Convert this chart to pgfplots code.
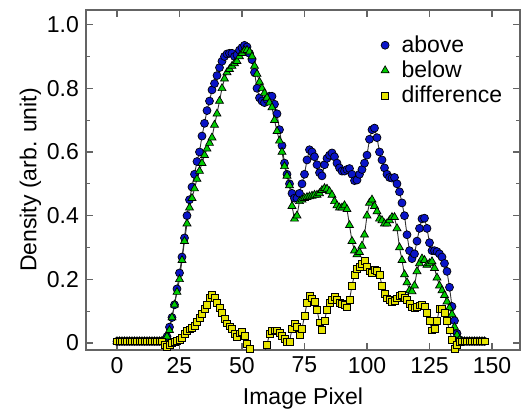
\documentclass[border=0pt]{standalone}
\usepackage{fontspec}
\setmainfont{Liberation Sans}
\usepackage{pgfplots}
\usepackage{pgfplotstable}
\pgfplotsset{compat=1.18}
\definecolor{abovecol}{RGB}{10,20,200}
\definecolor{belowcol}{RGB}{0,205,0}
\definecolor{diffcol}{RGB}{230,228,0}
\definecolor{axisgray}{RGB}{100,100,100}

% x  above  below  difference
\pgfplotstableread{
x a b d
0 0.005 0.005 0.005
1 0.005 0.005 0.005
2 0.005 0.005 0.005
3 0.005 0.005 0.005
4 0.005 0.005 0.005
5 0.005 0.005 0.005
6 0.005 0.005 0.005
7 0.005 0.005 0.005
8 0.005 0.005 0.005
9 0.005 0.005 0.005
10 0.005 0.005 0.005
11 0.005 0.005 0.005
12 0.005 0.005 0.005
13 0.005 0.005 0.005
14 0.005 0.005 0.005
15 0.005 0.005 0.005
16 0.005 0.005 0.005
17 0.005 0.005 0.005
18 0.006 0.006 0.005
19 0.008 0.006 -0.005
20 0.02 0.02 -0.012
21 0.05 0.04 -0.005
22 0.08 0.08 0.0
23 0.12 0.12 0.003
24 0.17 0.16 0.006
25 0.22 0.20 0.01
26 0.27 0.26 0.015
27 0.33 0.32 0.028
28 0.40 0.375 0.037
29 0.45 0.425 0.043
30 0.49 0.455 0.048
31 0.53 0.485 0.055
32 0.57 0.515 0.066
33 0.60 0.54 0.078
34 0.65 0.565 0.092
35 0.69 0.59 0.107
36 0.73 0.61 0.12
37 0.76 0.628 0.142
38 0.795 0.645 0.152
39 0.815 0.685 0.143
40 0.84 0.72 0.125
41 0.865 0.76 0.11
42 0.885 0.80 0.095
43 0.90 0.83 0.075
44 0.908 0.85 0.062
45 0.91 0.86 0.052
46 0.91 0.87 0.044
47 0.90 0.878 0.028
48 0.905 0.885 0.02
49 0.92 0.90 0.03
50 0.928 0.91 0.036
51 0.935 0.918 0.022
52 0.93 0.92 -0.002
53 0.91 0.915 -0.018
54 0.89 0.90 -0.025
55 0.85 0.87 -0.032
56 0.80 0.845 -0.037
57 0.77 0.82 -0.042
58 0.76 0.80 -0.04
59 0.755 0.785 -0.03
60 0.765 0.77 -0.005
61 0.775 0.755 0.028
62 0.775 0.74 0.037
63 0.75 0.70 0.04
64 0.72 0.665 0.04
65 0.67 0.635 0.033
66 0.62 0.60 0.022
67 0.565 0.555 0.012
68 0.53 0.525 0.003
69 0.50 0.495 0.004
70 0.47 0.43 0.045
71 0.455 0.39 0.062
72 0.455 0.40 0.05
73 0.47 0.445 0.025
74 0.50 0.45 0.045
75 0.53 0.455 0.085
76 0.575 0.458 0.125
77 0.607 0.46 0.148
78 0.60 0.462 0.14
79 0.585 0.465 0.128
80 0.56 0.465 0.105
81 0.535 0.47 0.065
82 0.525 0.48 0.042
83 0.56 0.486 0.07
84 0.58 0.484 0.105
85 0.59 0.476 0.125
86 0.597 0.465 0.135
87 0.585 0.445 0.145
88 0.565 0.432 0.135
89 0.55 0.425 0.127
90 0.54 0.425 0.122
91 0.54 0.432 0.12
92 0.545 0.42 0.112
93 0.548 0.37 0.135
94 0.53 0.32 0.18
95 0.51 0.29 0.215
96 0.512 0.278 0.232
97 0.53 0.285 0.24
98 0.545 0.305 0.248
99 0.565 0.34 0.258
100 0.59 0.40 0.24
101 0.64 0.44 0.225
102 0.67 0.45 0.22
103 0.675 0.43 0.23
104 0.645 0.413 0.226
105 0.60 0.39 0.215
106 0.575 0.385 0.18
107 0.55 0.375 0.155
108 0.53 0.375 0.14
109 0.52 0.385 0.135
110 0.518 0.395 0.13
111 0.52 0.395 0.132
112 0.50 0.36 0.14
113 0.475 0.30 0.148
114 0.44 0.26 0.15
115 0.40 0.215 0.143
116 0.34 0.19 0.135
117 0.29 0.165 0.122
118 0.265 0.162 0.112
119 0.28 0.18 0.11
120 0.32 0.225 0.114
121 0.36 0.25 0.118
122 0.39 0.265 0.12
123 0.392 0.26 0.115
124 0.36 0.245 0.095
125 0.315 0.25 0.07
126 0.29 0.256 0.04
127 0.29 0.235 0.045
128 0.287 0.205 0.07
129 0.28 0.18 0.108
130 0.27 0.165 0.108
131 0.25 0.15 0.095
132 0.225 0.13 0.07
133 0.175 0.11 0.04
134 0.115 0.09 0.01
135 0.07 0.05 -0.018
136 0.03 0.025 -0.005
137 0.01 0.01 0.003
138 0.005 0.005 0.005
139 0.005 0.005 0.005
140 0.005 0.005 0.005
141 0.005 0.005 0.005
142 0.005 0.005 0.005
143 0.005 0.005 0.005
144 0.005 0.005 0.005
145 0.005 0.005 0.005
146 0.005 0.005 0.005
147 0.005 0.005 0.005
}\densitytable

\begin{document}
\begin{tikzpicture}
\begin{axis}[
    at={(0,0)}, anchor=south west,
    scale only axis,
    width=217pt, height=170pt,
    xmin=-12.4, xmax=161.2,
    ymin=-0.022, ymax=1.046,
    xtick={0,25,50,75,100,125,150},
    ytick={0,0.2,0.4,0.6,0.8,1.0},
    yticklabels={0,0.2,0.4,0.6,0.8,1.0},
    minor ytick={0.1,0.3,0.5,0.7,0.9},
    tick align=inside,
    major tick length=3.5pt,
    minor tick length=1.8pt,
    tick style={draw=axisgray, line width=0.6pt},
    axis line style={draw=axisgray, line width=1pt},
    /pgf/number format/assume math mode=true,
    tick label style={font=\fontsize{11.5}{13}\selectfont},
    label style={font=\fontsize{11.5}{13}\selectfont},
    xlabel={Image Pixel},
    ylabel={Density (arb. unit)},
    xlabel style={yshift=-0.5pt},
    ylabel style={yshift=-4pt},
    every axis plot/.append style={draw=black!80, line width=0.45pt},
    legend style={draw=none, fill=none, at={(0.655,0.95)}, anchor=north west,
        font=\fontsize{11.5}{12}\selectfont, row sep=-1.2pt,
        cells={anchor=west}},
    legend image code/.code={%
        \path (0pt,0pt) (10pt,0pt);
        \draw[#1] plot coordinates {(4pt,0pt)};},
]
\addplot[mark=*, mark size=2pt,
    mark options={draw=black, line width=0.35pt, fill=abovecol}]
    table[x=x, y=a] {\densitytable};
\addlegendentry{above}
\addplot[mark=triangle*, mark size=2.3pt,
    mark options={draw=black, line width=0.35pt, fill=belowcol}]
    table[x=x, y=b] {\densitytable};
\addlegendentry{below}
\addplot[mark=square*, mark size=1.7pt,
    mark options={draw=black, line width=0.35pt, fill=diffcol}]
    table[x=x, y=d] {\densitytable};
\addlegendentry{difference}
\end{axis}
\path (-43pt,-34pt) rectangle (217.5pt,175pt);
\end{tikzpicture}
\end{document}
